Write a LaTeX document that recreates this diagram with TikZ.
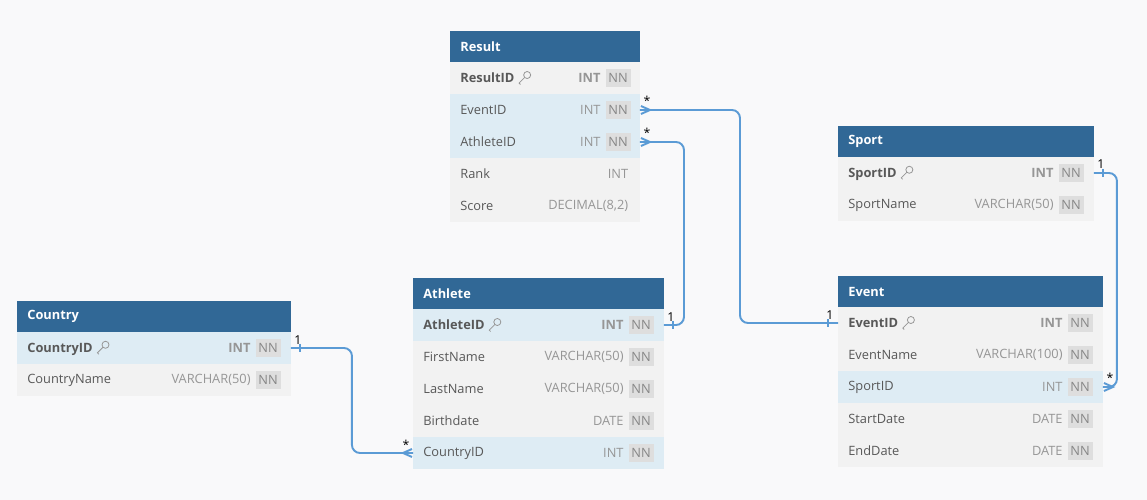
\documentclass[tikz,border=0pt]{standalone}
\usepackage{fontspec}
\setmainfont{Open Sans}
\usepackage{xcolor}
\usepackage{tikz}
\usetikzlibrary{positioning, calc}

\definecolor{hdblue}{RGB}{49,104,150}
\definecolor{rowgray}{RGB}{242,242,242}
\definecolor{rowblue}{RGB}{222,236,244}
\definecolor{nnfill}{RGB}{222,222,222}
\definecolor{nngray}{RGB}{135,135,135}
\definecolor{typegray}{RGB}{150,150,150}
\definecolor{namegray}{RGB}{88,88,88}
\definecolor{bgcol}{RGB}{249,249,250}
\definecolor{relblue}{RGB}{91,155,213}

\newcommand{\erfont}{\fontsize{7.3}{9}\selectfont}
\newcommand{\pkkey}{\tikz[baseline=-0.6ex, x=1pt, y=1pt, line width=0.45pt, draw=typegray]{%
  \draw (1.8,1.8) circle (2.0); \draw (0.4,0.4) -- (-2.8,-2.8) -- (-2.0,-3.6);}}
\newcommand{\pkname}[1]{\textbf{#1}\,\,\pkkey}

\begin{document}
\begin{tikzpicture}[x=0.02cm, y=-0.02cm,
  tblhead/.style={rectangle, fill=hdblue, anchor=north west, minimum height=0.62cm,
                  inner sep=0pt, outer sep=0pt},
  tbltitle/.style={anchor=west, text=white, font=\erfont\bfseries, inner sep=0pt},
  tblrow/.style={rectangle, anchor=north west, minimum height=0.64cm,
                 inner sep=0pt, outer sep=0pt},
  fldname/.style={anchor=west, text=namegray, font=\erfont, inner sep=0pt},
  fldtype/.style={anchor=east, text=typegray, font=\erfont, inner sep=0pt, xshift=-2.5pt},
  nnbox/.style={anchor=east, fill=nnfill, text=nngray, font=\erfont,
                inner xsep=1.6pt, inner ysep=0pt, minimum height=0.36cm},
  nonn/.style={anchor=east, inner sep=0pt, xshift=2.5pt},
  rel/.style={draw=relblue, line width=1.1pt, rounded corners=0.16cm},
  crow/.style={draw=relblue, line width=1.1pt},
  card/.style={font=\fontsize{7}{8}\selectfont, inner sep=0pt}
]
\fill[bgcol] (0,0) rectangle (1147,500);
\useasboundingbox (0,0) rectangle (1147,500);

% Result
\node[tblhead, minimum width=3.8cm] (res) at (450,31) {};
\node[tbltitle] (res-title) at ([xshift=0.2cm]res.west) {Result};
\foreach \i/\fld/\typ/\nst/\nn/\bg in {
    1/{\pkname{ResultID}}/{\bfseries INT}/nnbox/NN/rowgray,
    2/EventID/INT/nnbox/NN/rowblue, 3/AthleteID/INT/nnbox/NN/rowblue,
    4/Rank/INT/nonn//rowgray, 5/Score/{DECIMAL(8,2)}/nonn//rowgray}{
  \node[tblrow, fill=\bg, minimum width=3.8cm] (res-\i) at (450, 30+32*\i) {};
  \node[fldname] (res-n\i) at ([xshift=0.2cm]res-\i.west) {\fld};
  \node[\nst] (res-nn\i) at ([xshift=-0.18cm]res-\i.east) {\nn};
  \node[fldtype] (res-t\i) at (res-nn\i.west) {\typ};
}

% Sport
\node[tblhead, minimum width=5.12cm] (spt) at (838,126) {};
\node[tbltitle] (spt-title) at ([xshift=0.2cm]spt.west) {Sport};
\foreach \i/\fld/\typ/\nst/\nn/\bg in {
    1/{\pkname{SportID}}/{\bfseries INT}/nnbox/NN/rowgray,
    2/SportName/VARCHAR(50)/nnbox/NN/rowgray}{
  \node[tblrow, fill=\bg, minimum width=5.12cm] (spt-\i) at (838, 125+32*\i) {};
  \node[fldname] (spt-n\i) at ([xshift=0.2cm]spt-\i.west) {\fld};
  \node[\nst] (spt-nn\i) at ([xshift=-0.2cm]spt-\i.east) {\nn};
  \node[fldtype] (spt-t\i) at (spt-nn\i.west) {\typ};
}

% Country
\node[tblhead, minimum width=5.48cm] (cty) at (17,301) {};
\node[tbltitle] (cty-title) at ([xshift=0.2cm]cty.west) {Country};
\foreach \i/\fld/\typ/\nst/\nn/\bg in {
    1/{\pkname{CountryID}}/{\bfseries INT}/nnbox/NN/rowblue,
    2/CountryName/VARCHAR(50)/nnbox/NN/rowgray}{
  \node[tblrow, fill=\bg, minimum width=5.48cm] (cty-\i) at (17, 300+32*\i) {};
  \node[fldname] (cty-n\i) at ([xshift=0.2cm]cty-\i.west) {\fld};
  \node[\nst] (cty-nn\i) at ([xshift=-0.2cm]cty-\i.east) {\nn};
  \node[fldtype] (cty-t\i) at (cty-nn\i.west) {\typ};
}

% Athlete
\node[tblhead, minimum width=5.02cm] (ath) at (413,278) {};
\node[tbltitle] (ath-title) at ([xshift=0.2cm]ath.west) {Athlete};
\foreach \i/\fld/\typ/\nst/\nn/\bg in {
    1/{\pkname{AthleteID}}/{\bfseries INT}/nnbox/NN/rowblue,
    2/FirstName/VARCHAR(50)/nnbox/NN/rowgray, 3/LastName/VARCHAR(50)/nnbox/NN/rowgray,
    4/Birthdate/DATE/nnbox/NN/rowgray, 5/CountryID/INT/nnbox/NN/rowblue}{
  \node[tblrow, fill=\bg, minimum width=5.02cm] (ath-\i) at (413, 277+32*\i) {};
  \node[fldname] (ath-n\i) at ([xshift=0.2cm]ath-\i.west) {\fld};
  \node[\nst] (ath-nn\i) at ([xshift=-0.2cm]ath-\i.east) {\nn};
  \node[fldtype] (ath-t\i) at (ath-nn\i.west) {\typ};
}

% Event
\node[tblhead, minimum width=5.3cm] (evt) at (838,276) {};
\node[tbltitle] (evt-title) at ([xshift=0.2cm]evt.west) {Event};
\foreach \i/\fld/\typ/\nst/\nn/\bg in {
    1/{\pkname{EventID}}/{\bfseries INT}/nnbox/NN/rowgray,
    2/EventName/VARCHAR(100)/nnbox/NN/rowgray, 3/SportID/INT/nnbox/NN/rowblue,
    4/StartDate/DATE/nnbox/NN/rowgray, 5/EndDate/DATE/nnbox/NN/rowgray}{
  \node[tblrow, fill=\bg, minimum width=5.3cm] (evt-\i) at (838, 275+32*\i) {};
  \node[fldname] (evt-n\i) at ([xshift=0.2cm]evt-\i.west) {\fld};
  \node[\nst] (evt-nn\i) at ([xshift=-0.2cm]evt-\i.east) {\nn};
  \node[fldtype] (evt-t\i) at (evt-nn\i.west) {\typ};
}

% relationships
\draw[rel] (res-2.east) -- ++(100,0) |- (evt-1.west);
\draw[rel] (res-3.east) -- ++(44,0) |- (ath-1.east);
\draw[rel] (cty-1.east) -- ++(61,0) |- (ath-5.west);
\draw[rel] (spt-1.east) -- ++(23,0) |- (evt-3.east);

% many ends
\draw[crow] ([shift={(1,-4)}]res-2.east) -- ++(9,4) -- ++(-9,4);
\draw[crow] ([shift={(1,-4)}]res-3.east) -- ++(9,4) -- ++(-9,4);
\draw[crow] ([shift={(-1,-4)}]ath-5.west) -- ++(-9,4) -- ++(9,4);
\draw[crow] ([shift={(1,-4)}]evt-3.east) -- ++(9,4) -- ++(-9,4);
% one ends
\draw[crow] ([shift={(-10,-4)}]evt-1.west) -- ++(0,8);
\draw[crow] ([shift={(9,-4)}]ath-1.east) -- ++(0,8);
\draw[crow] ([shift={(9,-4)}]cty-1.east) -- ++(0,8);
\draw[crow] ([shift={(9,-4)}]spt-1.east) -- ++(0,8);

\node[card] (m1) at ([shift={(7,-9)}]res-2.east) {*};
\node[card] (m2) at ([shift={(7,-9)}]res-3.east) {*};
\node[card] (m3) at ([shift={(-7,-8)}]ath-5.west) {*};
\node[card] (m4) at ([shift={(7,-9)}]evt-3.east) {*};
\node[card] (o1) at ([shift={(-8,-8)}]evt-1.west) {1};
\node[card] (o2) at ([shift={(7,-8)}]ath-1.east) {1};
\node[card] (o3) at ([shift={(7,-8)}]cty-1.east) {1};
\node[card] (o4) at ([shift={(7,-9)}]spt-1.east) {1};
\end{tikzpicture}
\end{document}
